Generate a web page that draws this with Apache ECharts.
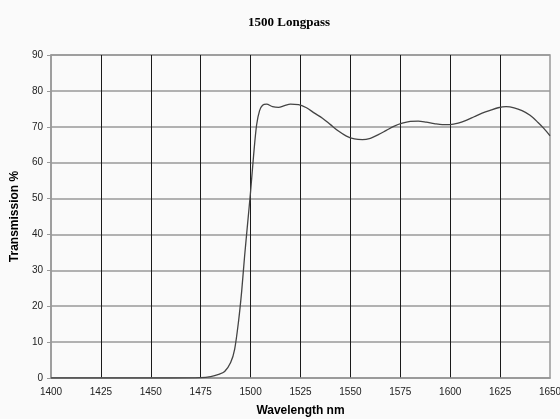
<!DOCTYPE html>
<html>
<head>
<meta charset="utf-8">
<script src="https://cdn.jsdelivr.net/npm/echarts@6/dist/echarts.min.js"></script>
<style>
html,body{margin:0;padding:0;background:#fafafa;}
#c{width:560px;height:419px;}
</style>
</head>
<body>
<div id="c"></div>
<script>
const titleText = '1500 Longpass';
const xName = 'Wavelength nm';
const yName = 'Transmission %';
const wavelength = [1400,1420,1440,1460,1475,1480,1484,1487,1490,1492,1494,1495.5,1497,1498.5,1500,1501.5,1503,1504.5,1506,1508,1511,1514,1517,1520,1524,1528,1532,1536,1540,1544,1548,1552,1556,1560,1564,1568,1572,1576,1580,1584,1588,1592,1596,1600,1604,1608,1612,1616,1620,1624,1628,1632,1636,1640,1644,1647,1650];
const transmission = [0,0,0,0,0.1,0.4,1,1.8,4.3,8,16,24,34,43,52,62,70.5,74.5,76,76.3,75.6,75.4,75.9,76.3,76.2,75.3,73.8,72.4,70.6,68.8,67.4,66.6,66.4,66.8,67.8,69,70.2,71,71.5,71.6,71.3,70.9,70.6,70.6,71,71.8,72.8,73.8,74.6,75.3,75.6,75.3,74.5,73.2,71.2,69.5,67.5];

const chart = echarts.init(document.getElementById('c'));
chart.setOption({
  backgroundColor: '#fafafa',
  animation: false,
  title: {
    text: titleText, left: 243, top: 11,
    textStyle: {fontFamily: 'Liberation Serif', fontWeight: 'bold', fontSize: 13, color: '#000'}
  },
  grid: {left: 51, right: 10, top: 55, bottom: 41, outerBoundsMode: 'none', containLabel: false, show: true, borderColor: '#999', borderWidth: 1.5, backgroundColor: 'transparent'},
  xAxis: {
    type: 'value', min: 1400, max: 1650, interval: 25,
    name: xName, nameLocation: 'middle', nameGap: 27,
    nameTextStyle: {fontFamily: 'Liberation Sans', fontWeight: 'bold', fontSize: 12, color: '#000'},
    axisLine: {show: true, lineStyle: {color: '#999', width: 1.5}},
    axisTick: {show: false},
    axisLabel: {fontFamily: 'Liberation Sans', fontSize: 10, color: '#222', margin: 9, formatter: v => String(v)},
    splitLine: {show: true, showMinLine: false, showMaxLine: false, lineStyle: {color: '#1a1a1a', width: 1}}
  },
  yAxis: {
    type: 'value', min: 0, max: 90, interval: 10,
    name: yName, nameLocation: 'middle', nameGap: 30,
    nameTextStyle: {fontFamily: 'Liberation Sans', fontWeight: 'bold', fontSize: 12, color: '#000'},
    axisLine: {show: true, lineStyle: {color: '#999', width: 1.5}},
    axisTick: {show: true, length: 4, lineStyle: {color: '#999'}},
    axisLabel: {fontFamily: 'Liberation Sans', fontSize: 10, color: '#222', margin: 8},
    splitLine: {show: true, lineStyle: {color: '#999', width: 1.5}}
  },
  series: [{
    type: 'line',
    data: wavelength.map((w, i) => [w, transmission[i]]),
    showSymbol: false,
    smooth: 0.3,
    lineStyle: {color: '#444', width: 1.3}
  }]
});
</script>
</body>
</html>
